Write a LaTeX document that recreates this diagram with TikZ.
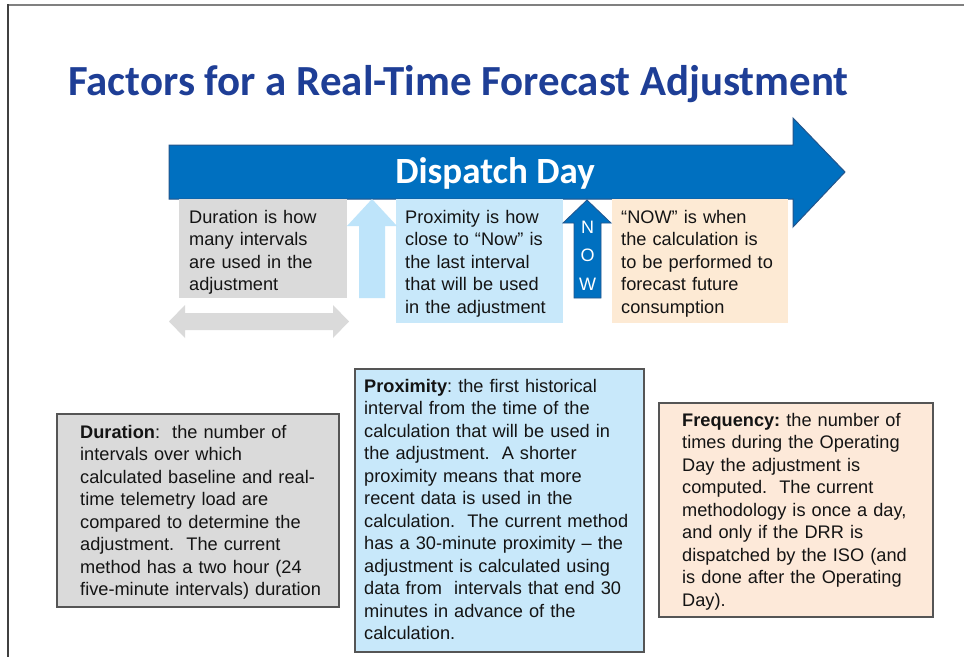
\documentclass[tikz,border=0pt]{standalone}
\usepackage{fontspec}
\setmainfont{Liberation Sans}
\newfontfamily\calfont{Carlito}
\frenchspacing
\begin{document}
\definecolor{titleblue}{RGB}{30,62,150}
\definecolor{barblue}{RGB}{0,112,192}
\definecolor{barline}{RGB}{35,85,140}
\definecolor{greyfill}{RGB}{218,218,218}
\definecolor{proxfill}{RGB}{200,232,250}
\definecolor{proxarrow}{RGB}{190,228,250}
\definecolor{nowfill}{RGB}{253,234,212}
\definecolor{freqfill}{RGB}{253,233,217}
\definecolor{boxline}{RGB}{85,85,85}
\definecolor{ink}{RGB}{20,20,20}
\begin{tikzpicture}[x=1pt,y=-1pt,
  bodytext/.style={anchor=base west,inner sep=0pt,text width=#1,align=left,
    text=ink,font=\fontsize{18.2}{22.5}\selectfont\frenchspacing},
  infobox/.style={draw=boxline,line width=1.6pt}]
\useasboundingbox (0,0) rectangle (964,657);
\fill[white] (0,0) rectangle (964,657);

% page frame
\draw[gray,line width=2pt] (7,4.5) -- (964,4.5);
\draw[black!75,line width=2.5pt] (8,4) -- (8,657);

% title
\node[anchor=base west,inner sep=0pt,text=titleblue,
  font=\calfont\bfseries\fontsize{42.9}{50}\selectfont] (title) at (68,95)
  {Factors for a Real-Time Forecast Adjustment};

% timeline arrow
\draw[fill=barblue,draw=barline,line width=1pt]
  (169,145) -- (793,145) -- (793,118) -- (845,172) -- (793,227)
  -- (793,199) -- (169,199) -- cycle;
\node[text=white,font=\calfont\bfseries\fontsize{37}{40}\selectfont] (day) at (495,173) {Dispatch Day};

% upper boxes
\fill[greyfill] (179,199) rectangle (347,298);
\fill[proxfill] (396,199) rectangle (563,323);
\fill[nowfill] (612,199) rectangle (788,323);
\node[bodytext=160pt] (durtop) at (189,223)
  {Duration is how\\many intervals\\are used in the\\adjustment};
\node[bodytext=160pt] (proxtop) at (405,223)
  {Proximity is how\\close to “Now” is\\the last interval\\that will be used\\in the adjustment};
\node[bodytext=170pt] (nowtop) at (621,223)
  {“NOW” is when\\the calculation is\\to be performed to\\forecast future\\consumption};

% light blue up arrow
\fill[proxarrow] (372,199) -- (397,226) -- (385,226) -- (385,298)
  -- (359,298) -- (359,226) -- (347,226) -- cycle;

% NOW arrow
\draw[fill=barblue,draw=barline,line width=0.8pt]
  (587,200) -- (611,223) -- (601,223) -- (601,298)
  -- (574,298) -- (574,223) -- (563,223) -- cycle;
\foreach \ch/\yy in {N/227,O/255,W/284}
  \node[text=white,font=\fontsize{18}{20}\selectfont,inner sep=0pt] (now\ch) at (587.5,\yy) {\ch};

% duration span arrow
\fill[greyfill] (169,321.5) -- (185,305) -- (185,313) -- (333,313) -- (333,305)
  -- (349,321.5) -- (333,338) -- (333,330) -- (185,330) -- (185,338) -- cycle;

% lower boxes
\draw[infobox,fill=greyfill] (57,414) rectangle (339,607);
\node[bodytext=260pt] (durbox) at (80,438)
  {\textbf{Duration}:\ \ the number of\\intervals over which\\calculated baseline and real-\\time telemetry load are\\compared to determine the\\adjustment.\ \ The current\\method has a two hour (24\\five-minute intervals) duration};

\draw[infobox,fill=proxfill] (355,369) rectangle (644,652);
\node[bodytext=280pt] (proxbox) at (364,392)
  {\textbf{Proximity}: the first historical\\interval from the time of the\\calculation that will be used in\\the adjustment.\ \ A shorter\\proximity means that more\\recent data is used in the\\calculation.\ \ The current method\\has a 30-minute proximity – the\\adjustment is calculated using\\data from\ \ intervals that end 30\\minutes in advance of the\\calculation.};

\draw[infobox,fill=freqfill] (659,403) rectangle (933,617);
\node[bodytext=250pt] (freqbox) at (682,426)
  {\textbf{Frequency:} the number of\\times during the Operating\\Day the adjustment is\\computed.\ \ The current\\methodology is once a day,\\and only if the DRR is\\dispatched by the ISO (and\\is done after the Operating\\Day).};
\end{tikzpicture}
\end{document}
